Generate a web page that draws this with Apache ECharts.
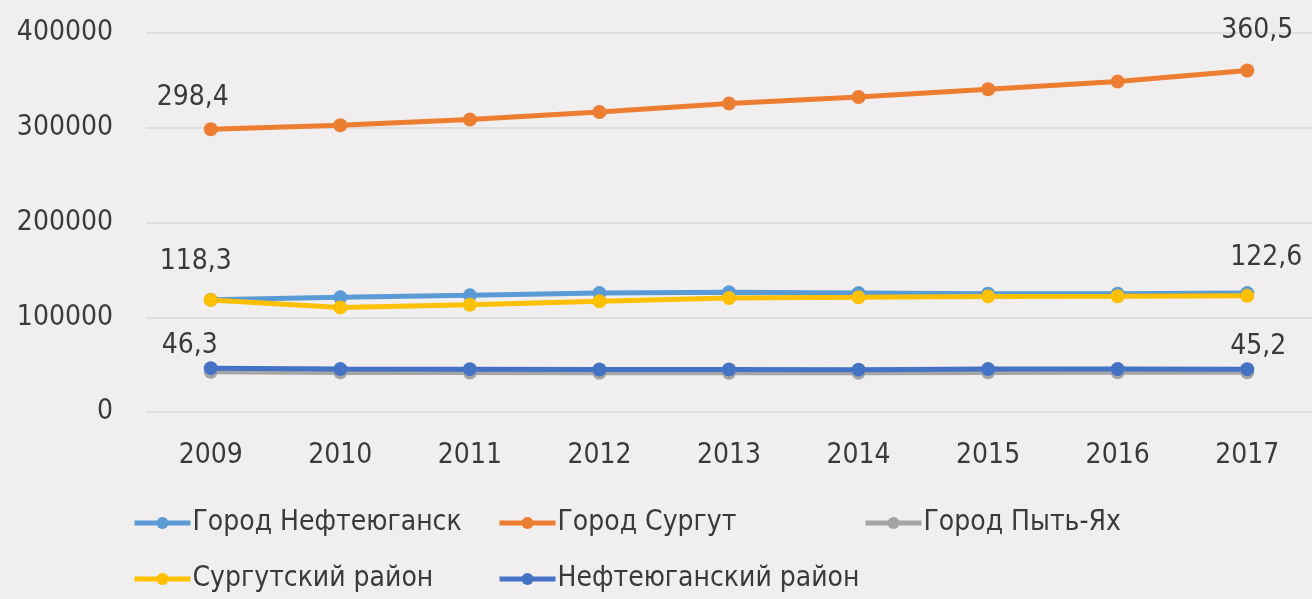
<!DOCTYPE html>
<html>
<head>
<meta charset="utf-8">
<script src="https://cdn.jsdelivr.net/npm/echarts@6/dist/echarts.min.js"></script>
<style>
  html, body { margin: 0; padding: 0; background: #f0eeee; }
  #chart { width: 1312px; height: 599px; }
</style>
</head>
<body>
<div id="chart"></div>
<script>
const years = ['2009', '2010', '2011', '2012', '2013', '2014', '2015', '2016', '2017']
const nefteyugansk = [118500, 121000, 123100, 125500, 126300, 125500, 124800, 124900, 125500]
const surgut = [298400, 302600, 308600, 316600, 325500, 332500, 340600, 348700, 360500]
const pytYakh = [42500, 41800, 41600, 41400, 41400, 41300, 41800, 41900, 41900]
const surgutRayon = [118300, 110400, 113200, 116800, 120200, 121000, 122000, 122200, 122600]
const nefteyuganskRayon = [46300, 45300, 45200, 44800, 44800, 44700, 45300, 45300, 45200]
const yTicks = [0, 100000, 200000, 300000, 400000]

const font = '"DejaVu Sans Condensed", "Liberation Sans Narrow", sans-serif'
const textColor = '#3a3a3a'
const fs = 28

// подписи только у первой и последней точки
function withLabels(values, firstOffset, lastOffset) {
	return values.map((v, i) => {
		if (i === 0 || i === values.length - 1) {
			return {
				value: v,
				label: {
					show: true,
					position: 'top',
					offset: i === 0 ? firstOffset : lastOffset,
					formatter: (p) => (p.value / 1000).toFixed(1).replace('.', ','),
					fontFamily: font,
					fontSize: fs,
					color: textColor
				}
			}
		}
		return v
	})
}

function line(name, color, data) {
	return {
		name: name,
		type: 'line',
		symbol: 'circle',
		symbolSize: 14,
		itemStyle: { color: color },
		lineStyle: { width: 5, color: color },
		data: data
	}
}

const legendItem = (name, left, top) => ({
	data: [name],
	left: left,
	top: top,
	padding: 0,
	itemWidth: 56,
	itemHeight: 15,
	lineStyle: { width: 5 },
	textStyle: { fontFamily: font, fontSize: fs, color: textColor, padding: [0, 0, 0, -3] }
})

const chart = echarts.init(document.getElementById('chart'))
chart.setOption({
	backgroundColor: '#f0eeee',
	animation: false,
	grid: { left: 146, right: -4, top: 33, bottom: 187 },
	legend: [
		legendItem('Город Нефтеюганск', 132, 509),
		legendItem('Город Сургут', 497, 509),
		legendItem('Город Пыть-Ях', 863, 509),
		legendItem('Сургутский район', 132, 565),
		legendItem('Нефтеюганский район', 497, 565)
	],
	xAxis: {
		type: 'category',
		data: years,
		boundaryGap: true,
		axisLine: { show: false },
		axisTick: { show: false },
		axisLabel: { fontFamily: font, fontSize: fs, color: textColor, margin: 30 }
	},
	yAxis: {
		type: 'value',
		min: yTicks[0],
		max: yTicks[yTicks.length - 1],
		interval: 100000,
		axisLine: { show: false },
		axisTick: { show: false },
		axisLabel: {
			fontFamily: font, fontSize: fs, color: textColor, margin: 33,
			formatter: (v) => String(v)
		},
		splitLine: { lineStyle: { color: '#d9d9d9', width: 1.5 } }
	},
	series: [
		line('Город Нефтеюганск', '#5b9bd5', nefteyugansk),
		line('Город Сургут', '#ed7d31', withLabels(surgut, [-18, -6], [10, -14])),
		line('Город Пыть-Ях', '#a5a5a5', pytYakh),
		line('Сургутский район', '#ffc000', withLabels(surgutRayon, [-15, -12], [19, -12])),
		line('Нефтеюганский район', '#4472c4', withLabels(nefteyuganskRayon, [-21, 4], [11, 4]))
	]
})
</script>
</body>
</html>
